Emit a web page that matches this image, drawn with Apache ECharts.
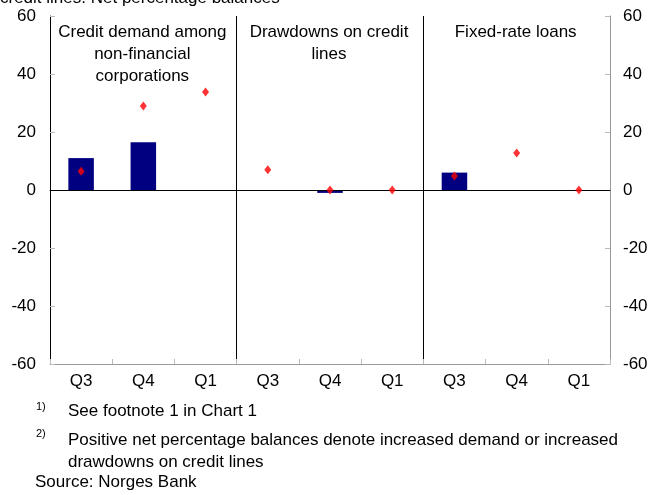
<!DOCTYPE html>
<html><head><meta charset="utf-8">
<script src="https://cdn.jsdelivr.net/npm/echarts@6/dist/echarts.min.js"></script>
<style>html,body{margin:0;padding:0;background:#fff}#c{width:649px;height:495px}</style>
</head><body><div id="c"></div>
<script>
const categories = ['Q3','Q4','Q1','Q3','Q4','Q1','Q3','Q4','Q1'];
const barValues = [11, 16.5, null, null, -1, null, 6, null, null];
const diamondValues = [6.5, 29, 33.8, 7, 0, 0, 4.8, 12.8, 0];
const yTicks = {min: -60, max: 60, interval: 20};
const panelTitles = ['Credit demand among\nnon-financial\ncorporations', 'Drawdowns on credit\nlines', 'Fixed-rate loans'];
const footnotes = ['See footnote 1 in Chart 1', 'Positive net percentage balances denote increased demand or increased\ndrawdowns on credit lines'];

const FONT = 'Liberation Sans';
const FS = 17;
const chart = echarts.init(document.getElementById('c'));
const gl = 50, gr = 649 - 610, gt = 16, gb = 495 - 364;
const plotW = 649 - gl - gr;
const panelCenters = [0,1,2].map(i => gl + plotW * (i * 3 + 1.5) / 9 - 1);

const txt = {fontFamily: FONT, fontSize: FS, color: '#000'};
const titles = panelTitles.map((t, i) => ({
  text: t, left: panelCenters[i], top: 21, textAlign: 'center', padding: 0,
  textStyle: Object.assign({}, txt, {fontWeight: 'normal', lineHeight: 22})
}));

chart.setOption({
  animation: false,
  title: titles,
  grid: {left: gl, right: gr, top: gt, bottom: gb, containLabel: false, outerBoundsMode: 'none'},
  xAxis: [{
    type: 'category', data: categories, position: 'bottom',
    axisLine: {show: true, onZero: false, lineStyle: {color: '#999'}},
    axisTick: {show: true, inside: true, length: 5, lineStyle: {color: '#bbb'}},
    axisLabel: Object.assign({}, txt, {margin: 9}),
    splitLine: {show: true, interval: (i) => i === 3 || i === 6, lineStyle: {color: '#000', width: 1}}
  }, {
    type: 'category', data: categories, position: 'top',
    axisLine: {show: true, lineStyle: {color: '#222'}},
    axisTick: {show: false}, axisLabel: {show: false}
  }],
  yAxis: [{
    type: 'value', min: yTicks.min, max: yTicks.max, interval: yTicks.interval, position: 'left',
    axisLine: {show: true, lineStyle: {color: '#000'}},
    axisTick: {show: true, inside: true, length: 5, lineStyle: {color: '#bbb'}},
    axisLabel: Object.assign({}, txt, {margin: 14}),
    splitLine: {show: false}
  }, {
    type: 'value', min: yTicks.min, max: yTicks.max, interval: yTicks.interval, position: 'right',
    axisLine: {show: true, lineStyle: {color: '#999'}},
    axisTick: {show: true, inside: true, length: 5, lineStyle: {color: '#bbb'}},
    axisLabel: Object.assign({}, txt, {margin: 13}),
    splitLine: {show: false}
  }],
  series: [{
    type: 'bar', data: barValues, barWidth: '41%',
    itemStyle: {color: '#000080'},
    markLine: {silent: true, symbol: 'none', label: {show: false},
      lineStyle: {color: '#000', width: 1, type: 'solid'}, data: [{yAxis: 0}]}
  }, {
    type: 'scatter', data: diamondValues, symbol: 'diamond', symbolSize: [7, 9],
    itemStyle: {color: '#ff0000'}, z: 5
  }],
  graphic: [
    {type: 'text', left: 0, top: -10, style: {text: 'credit lines. Net percentage balances', font: FS + 'px ' + FONT, fill: '#000'}},
    {type: 'text', left: 36, top: 401, style: {text: '1)', font: '11px ' + FONT, fill: '#000'}},
    {type: 'text', left: 68, top: 403, style: {text: footnotes[0], font: FS + 'px ' + FONT, fill: '#000'}},
    {type: 'text', left: 36, top: 428, style: {text: '2)', font: '11px ' + FONT, fill: '#000'}},
    {type: 'text', left: 68, top: 429, style: {text: footnotes[1], font: FS + 'px ' + FONT, fill: '#000', lineHeight: 22}},
    {type: 'text', left: 35, top: 474, style: {text: 'Source: Norges Bank', font: FS + 'px ' + FONT, fill: '#000'}}
  ]
});
</script></body></html>
